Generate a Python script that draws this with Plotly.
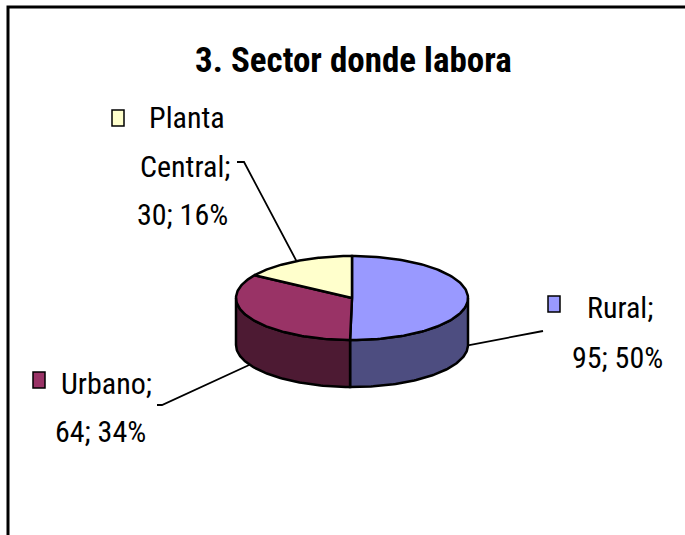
import numpy as np
import plotly.graph_objects as go

# ---------------- data ----------------
categories = ["Rural", "Urbano", "Planta Central"]
values = [95, 64, 30]
top_colors = ["#9999FF", "#993366", "#FFFFCC"]
side_colors = ["#4D4D80", "#4D1A33", "#80806A"]
title_text = "3. Sector donde labora"

# ---------------- layout geometry (pixels) ----------------
W, H = 685, 535
CX, CY, RX, RY, DEPTH = 352, 298, 116, 42, 47
START_ANGLE = 90.0
FONT = "Roboto Condensed, Liberation Sans Narrow, Arial Narrow, sans-serif"
LABEL_SIZE = 30
TITLE_SIZE = 35

label_pos = {
    "Rural": dict(key=(554, 304), lines_x=[585, 570], lines_y=[307, 357],
                  leader=[(543, 331)]),
    "Urbano": dict(key=(39, 380), lines_x=[59, 53], lines_y=[383, 431],
                   leader=[(157, 405), (162, 405)]),
    "Planta Central": dict(key=(118, 118), lines_x=[147, 138, 135],
                           lines_y=[117, 166, 214],
                           leader=[(237, 162), (244, 162)]),
}


def pt(theta_deg, dz=0.0):
    t = np.radians(theta_deg)
    return CX + RX * np.cos(t), CY - RY * np.sin(t) + dz


fig = go.Figure()
total = float(sum(values))

# slice angles (clockwise from 12 o'clock)
slices = []
a = START_ANGLE
for cat, v in zip(categories, values):
    b = a - 360.0 * v / total
    slices.append((cat, v, a, b))
    a = b

# side walls (front half only: angles in [-180, 0])
for (cat, v, a, b), sc in zip(slices, side_colors):
    lo, hi = max(b, -180.0), min(a, 0.0)
    if hi <= lo:
        continue
    th = np.linspace(hi, lo, 80)
    xt, yt = pt(th)
    xb, yb = pt(th[::-1], DEPTH)
    xs = np.concatenate([xt, xb, xt[:1]])
    ys = np.concatenate([yt, yb, yt[:1]])
    fig.add_trace(go.Scatter(x=xs, y=ys, mode="lines", fill="toself",
                             fillcolor=sc, line=dict(color="black", width=2.5),
                             hoverinfo="skip", showlegend=False))

# top faces
for (cat, v, a, b), tc in zip(slices, top_colors):
    th = np.linspace(a, b, 120)
    xa, ya = pt(th)
    xs = np.concatenate([[CX], xa, [CX]])
    ys = np.concatenate([[CY], ya, [CY]])
    fig.add_trace(go.Scatter(x=xs, y=ys, mode="lines", fill="toself",
                             fillcolor=tc, line=dict(color="black", width=2.5),
                             hoverinfo="skip", showlegend=False))

# labels, leader lines, keys
for (cat, v, a, b), tc in zip(slices, top_colors):
    p = label_pos[cat]
    pct = round(100 * v / total)
    words = cat.split(" ")
    lines = words[:-1] + [words[-1] + ";"] + [f"{v}; {pct}%"]
    mid = (a + b) / 2
    dz = DEPTH if np.sin(np.radians(mid)) <= 1e-9 else 0.0
    ex, ey = pt(mid, dz)
    lx = [q[0] for q in p["leader"]] + [ex]
    ly = [q[1] for q in p["leader"]] + [ey]
    fig.add_trace(go.Scatter(x=lx, y=ly, mode="lines",
                             line=dict(color="black", width=1.8),
                             hoverinfo="skip", showlegend=False))
    kx, ky = p["key"]
    fig.add_shape(type="rect", x0=kx - 6, x1=kx + 6, y0=ky - 8, y1=ky + 8,
                  xref="x", yref="y", fillcolor=tc,
                  line=dict(color="black", width=1.5))
    for txt, x, y in zip(lines, p["lines_x"], p["lines_y"]):
        fig.add_annotation(x=x, y=y, text=txt, showarrow=False,
                           xanchor="left", yanchor="middle",
                           font=dict(family=FONT, size=LABEL_SIZE, color="black"))

# title
fig.add_annotation(x=353, y=60, text=f"<b>{title_text}</b>", showarrow=False,
                   xanchor="center", yanchor="middle",
                   font=dict(family=FONT, size=TITLE_SIZE, color="black"))

# chart border (left and top visible)
fig.add_shape(type="path", path="M 8,545 L 8,7 L 700,7", xref="x", yref="y",
              line=dict(color="black", width=3))

fig.update_layout(
    width=W, height=H, margin=dict(l=0, r=0, t=0, b=0),
    paper_bgcolor="white", plot_bgcolor="white",
    xaxis=dict(range=[0, W], visible=False, fixedrange=True),
    yaxis=dict(range=[H, 0], visible=False, fixedrange=True),
    showlegend=False,
)

fig.write_html("out.html", config={"displayModeBar": False},
               post_script="document.body.style.margin='0';")
